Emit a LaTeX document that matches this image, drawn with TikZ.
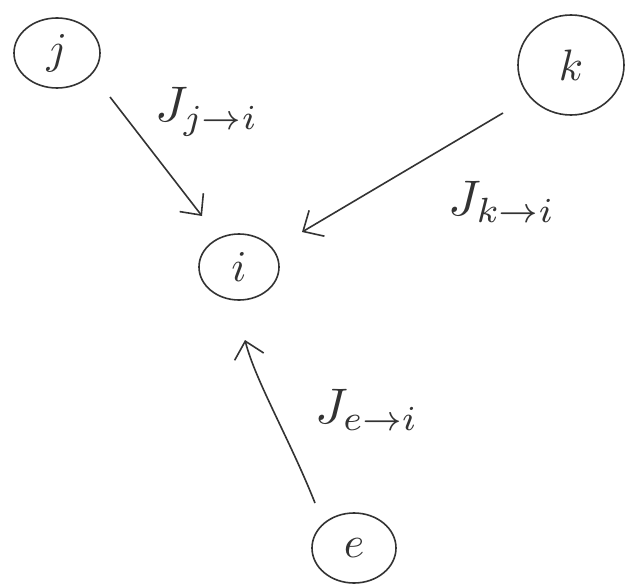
\documentclass[tikz,border=0pt]{standalone}
\usetikzlibrary{arrows.meta,shapes.geometric}
\newcommand{\vertletter}[1]{\scalebox{4.4}{$#1$}}
\newcommand{\flowlabel}[1]{\scalebox{5}{$#1$}}
\begin{document}
\begin{tikzpicture}[x=1pt,y=-1pt,
  vert/.style={draw=black!80,line width=1.6pt,ellipse,inner sep=0pt,text=black!80},
  flow/.style={draw=black!80,line width=1.6pt,-{Straight Barb[length=16pt,width=30pt,line width=1.6pt]}},
  lab/.style={text=black!80,inner sep=0pt}]
\useasboundingbox (0,0) rectangle (626,586);
\fill[white] (0,0) rectangle (626,586);
\node[vert,minimum width=86pt,minimum height=70pt] (j) at (57,53) {\vertletter{j}};
\node[vert,minimum width=106pt,minimum height=100pt] (k) at (571,65) {\vertletter{k}};
\node[vert,minimum width=80pt,minimum height=66pt] (i) at (239,267) {\vertletter{i}};
\node[vert,minimum width=84pt,minimum height=70pt] (e) at (354,548) {\vertletter{e}};
\coordinate (js) at (110,97);  \coordinate (jt) at (202,216);
\coordinate (ks) at (503,113); \coordinate (kt) at (302,232);
\coordinate (es) at (315,503); \coordinate (et) at (245,340);
\draw[flow] (js) -- (jt);
\draw[flow] (ks) -- (kt);
\draw[flow] (es) .. controls (290,440) and (255,380) .. (et);
\node[lab] (lj) at (207,112) {\flowlabel{J_{j\to i}}};
\node[lab] (lk) at (502,202) {\flowlabel{J_{k\to i}}};
\node[lab] (le) at (367,410) {\flowlabel{J_{e\to i}}};
\end{tikzpicture}
\end{document}
